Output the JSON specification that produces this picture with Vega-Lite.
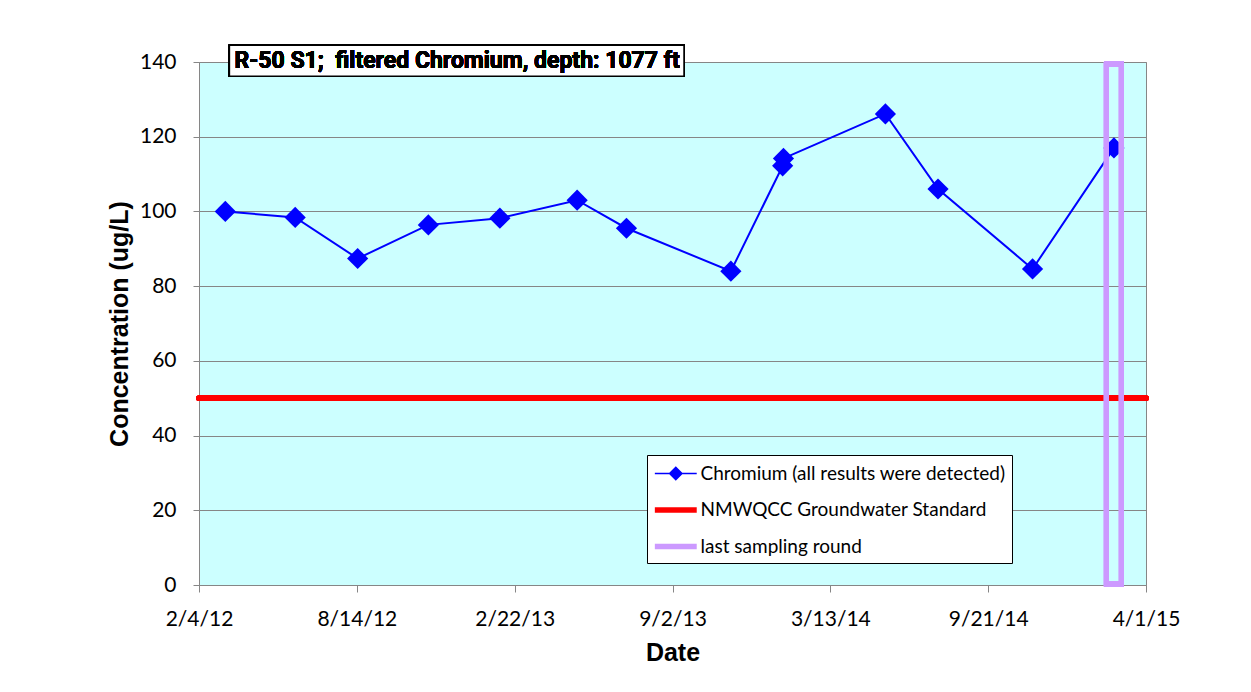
{
  "$schema": "https://vega.github.io/schema/vega-lite/v6.json",
  "width": 947,
  "height": 523,
  "autosize": {"type": "none"},
  "padding": {"left": 199, "top": 62, "right": 105, "bottom": 107},
  "background": "white",
  "config": {
    "view": {"fill": "#CCFFFF", "stroke": "#868686", "strokeWidth": 1},
    "axis": {
      "labelFont": "Lato", "labelFontSize": 21, "labelColor": "black",
      "titleFont": "Liberation Sans", "titleFontSize": 25, "titleFontWeight": "bold", "titleColor": "black",
      "domainColor": "#868686", "tickColor": "#868686", "gridColor": "#868686", "gridOpacity": 1
    }
  },
  "datasets": {
    "chromium": [
      {"date": "2012-03-07", "value": 100, "series": "Chromium (all results were detected)"},
      {"date": "2012-05-31", "value": 98.4, "series": "Chromium (all results were detected)"},
      {"date": "2012-08-15", "value": 87.4, "series": "Chromium (all results were detected)"},
      {"date": "2012-11-09", "value": 96.4, "series": "Chromium (all results were detected)"},
      {"date": "2013-02-04", "value": 98.2, "series": "Chromium (all results were detected)"},
      {"date": "2013-05-09", "value": 103, "series": "Chromium (all results were detected)"},
      {"date": "2013-07-08", "value": 95.5, "series": "Chromium (all results were detected)"},
      {"date": "2013-11-12", "value": 84, "series": "Chromium (all results were detected)"},
      {"date": "2014-01-14", "value": 112.2, "series": "Chromium (all results were detected)"},
      {"date": "2014-01-15", "value": 114.2, "series": "Chromium (all results were detected)"},
      {"date": "2014-05-19", "value": 126.1, "series": "Chromium (all results were detected)"},
      {"date": "2014-07-22", "value": 106, "series": "Chromium (all results were detected)"},
      {"date": "2014-11-14", "value": 84.6, "series": "Chromium (all results were detected)"},
      {"date": "2015-02-21", "value": 117, "series": "Chromium (all results were detected)"}
    ]
  },
  "data": {"name": "chromium"},
  "layer": [
    {
      "mark": {"type": "line", "color": "#0000FF", "strokeWidth": 2},
      "encoding": {
        "x": {
          "field": "date", "type": "temporal",
          "scale": {"type": "utc", "domain": [{"year": 2012, "month": 2, "date": 4, "utc": true}, {"year": 2015, "month": 4, "date": 1, "utc": true}], "nice": false, "padding": 0},
          "axis": {
            "title": "Date", "grid": false, "tickSize": 7, "labelPadding": 16, "titlePadding": 11,
            "format": "%-m/%-d/%y", "labelFlush": false, "labelOverlap": false,
            "values": [
              {"year": 2012, "month": 2, "date": 4, "utc": true},
              {"year": 2012, "month": 8, "date": 14, "utc": true},
              {"year": 2013, "month": 2, "date": 22, "utc": true},
              {"year": 2013, "month": 9, "date": 2, "utc": true},
              {"year": 2014, "month": 3, "date": 13, "utc": true},
              {"year": 2014, "month": 9, "date": 21, "utc": true},
              {"year": 2015, "month": 4, "date": 1, "utc": true}
            ]
          }
        },
        "y": {
          "field": "value", "type": "quantitative",
          "scale": {"domain": [0, 140], "nice": false},
          "axis": {"title": "Concentration (ug/L)", "values": [0, 20, 40, 60, 80, 100, 120, 140], "grid": true, "tickSize": 6, "labelPadding": 17, "titlePadding": 7}
        }
      }
    },
    {
      "mark": {"type": "point", "shape": "diamond", "filled": true, "size": 450, "opacity": 1, "color": "#0000FF"},
      "encoding": {
        "x": {"field": "date", "type": "temporal"},
        "y": {"field": "value", "type": "quantitative"}
      }
    },
    {
      "mark": {"type": "point", "filled": true, "opacity": 0},
      "encoding": {
        "x": {"field": "date", "type": "temporal"},
        "y": {"field": "value", "type": "quantitative"},
        "color": {
          "field": "series", "type": "nominal",
          "scale": {"domain": ["Chromium (all results were detected)", "NMWQCC Groundwater Standard", "last sampling round"], "range": ["#0000FF", "#FF0000", "#CC99FF"]},
          "legend": {
            "title": null, "orient": "none", "legendX": 448, "legendY": 393,
            "fillColor": "white", "strokeColor": "black", "padding": 6,
            "labelFont": "Lato", "labelFontSize": 19, "labelColor": "black", "labelLimit": 0,
            "symbolSize": 600, "symbolOpacity": 1, "symbolStrokeWidth": 0, "rowPadding": 13.5, "labelOffset": 22.5
          }
        },
        "shape": {
          "field": "series", "type": "nominal",
          "scale": {
            "domain": ["Chromium (all results were detected)", "NMWQCC Groundwater Standard", "last sampling round"],
            "range": [
              "M-0.87,-0.065H2.55V0.065H-0.87Z M0.25,0L0.84,-0.59L1.43,0L0.84,0.59Z",
              "M-0.87,-0.22H2.55V0.22H-0.87Z",
              "M-0.87,-0.22H2.55V0.22H-0.87Z"
            ]
          },
          "legend": {
            "title": null, "orient": "none", "legendX": 448, "legendY": 393,
            "fillColor": "white", "strokeColor": "black", "padding": 6,
            "labelFont": "Lato", "labelFontSize": 19, "labelColor": "black", "labelLimit": 0,
            "symbolSize": 600, "symbolOpacity": 1, "symbolStrokeWidth": 0, "rowPadding": 13.5, "labelOffset": 22.5
          }
        }
      }
    },
    {
      "mark": {"type": "rule", "color": "#FF0000", "strokeWidth": 5.5, "strokeCap": "round"},
      "encoding": {"y": {"datum": 50, "type": "quantitative"}}
    },
    {
      "mark": {"type": "bar", "fill": "transparent", "stroke": "#CC99FF", "strokeWidth": 5, "width": 15},
      "encoding": {
        "x": {"datum": {"year": 2015, "month": 2, "date": 21, "utc": true}, "type": "temporal"},
        "y": {"datum": 139.4, "type": "quantitative"},
        "y2": {"datum": 0.3}
      }
    },
    {
      "mark": {"type": "rect", "fill": "white", "stroke": "black", "strokeWidth": 1.5},
      "encoding": {
        "x": {"datum": {"year": 2012, "month": 3, "date": 12, "utc": true}, "type": "temporal"},
        "x2": {"datum": {"year": 2013, "month": 9, "date": 16, "utc": true}},
        "y": {"datum": 144.5, "type": "quantitative"},
        "y2": {"datum": 136.2}
      }
    },
    {
      "mark": {"type": "text", "font": "Roboto", "fontSize": 23, "fontWeight": "bold", "fill": "black", "align": "center", "baseline": "middle"},
      "encoding": {
        "x": {"datum": {"year": 2012, "month": 12, "date": 14, "utc": true}, "type": "temporal"},
        "y": {"datum": 140.35, "type": "quantitative"},
        "text": {"value": "R-50 S1;\u00a0 filtered Chromium, depth: 1077 ft"}
      }
    }
  ]
}
